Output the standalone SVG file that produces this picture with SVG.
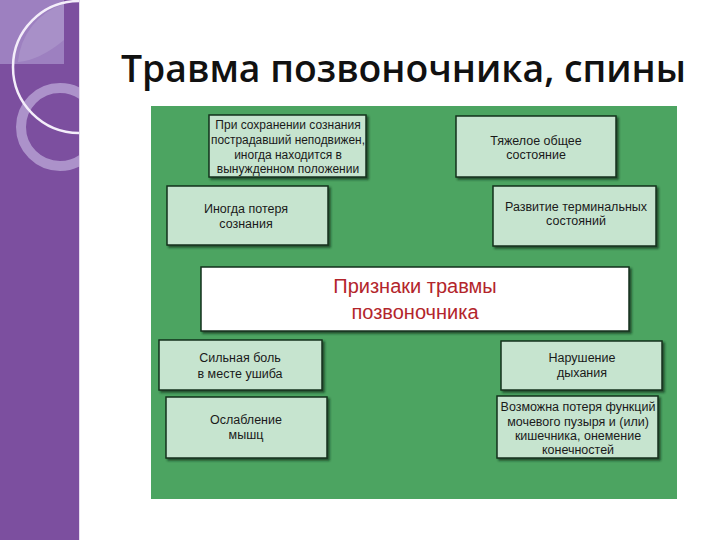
<svg xmlns="http://www.w3.org/2000/svg" width="720" height="540" viewBox="0 0 720 540">
<defs>
<style>
.box{fill:#c6e4cf;stroke:#15301c;stroke-width:1.5;filter:url(#sh)}
.t{font-family:"Liberation Sans",Arial,sans-serif;font-size:12.5px;fill:#1a1a1a;text-anchor:middle}
.s{font-size:12px}
.c{font-family:"Liberation Sans",Arial,sans-serif;font-size:20px;fill:#b3252b;text-anchor:middle}
</style>
<filter id="sh" x="-10%" y="-10%" width="130%" height="140%">
<feDropShadow dx="2" dy="2" stdDeviation="1" flood-color="#10301a" flood-opacity="0.75"/>
</filter>
<clipPath id="bar"><rect x="0" y="0" width="79" height="540"/></clipPath>
</defs>
<rect width="720" height="540" fill="#ffffff"/>
<g id="sidebar" clip-path="url(#bar)">
<rect x="0" y="0" width="79" height="540" fill="#7c4f9f"/>
<rect x="0" y="0" width="64" height="64" fill="#9d80c0"/>
<path d="M64 0 L64 40 Q40 60 18 62 A66 66 0 0 1 64 4 Z" fill="#a890c8"/>
<circle cx="60" cy="127" r="39" fill="none" stroke="#b59dd1" stroke-width="10" opacity="0.85"/>
<circle cx="79" cy="67" r="66" fill="none" stroke="#f4eefa" stroke-width="2.5"/>
</g>
<line x1="79.5" y1="0" x2="79.5" y2="540" stroke="#e6dcef" stroke-width="1"/>
<text x="121" y="82" font-family="'Open Sans','Liberation Sans',sans-serif" font-weight="600" font-size="38" fill="#111" textLength="565" lengthAdjust="spacingAndGlyphs">Травма позвоночника, спины</text>
<rect x="151" y="106" width="526" height="393" fill="#4ca461"/>
<g id="connectors"/>
<g id="n1"><rect class="box" x="209" y="115" width="157" height="62"/>
<text class="t s" x="288" y="129">При сохранении сознания</text>
<text class="t s" x="288" y="144" textLength="154" lengthAdjust="spacingAndGlyphs">пострадавший неподвижен,</text>
<text class="t s" x="288" y="159">иногда находится в</text>
<text class="t s" x="288" y="173">вынужденном положении</text></g>
<g id="n2"><rect class="box" x="167" y="186" width="161" height="59"/>
<text class="t" x="246" y="213">Иногда потеря</text>
<text class="t" x="246" y="228">сознания</text></g>
<g id="n3"><rect class="box" x="456" y="116" width="160" height="61"/>
<text class="t" x="536" y="145">Тяжелое общее</text>
<text class="t" x="536" y="159">состояние</text></g>
<g id="n4"><rect class="box" x="493" y="186" width="163" height="60"/>
<text class="t" x="576" y="211">Развитие терминальных</text>
<text class="t" x="576" y="225">состояний</text></g>
<g id="center"><rect x="201" y="267" width="428" height="64" fill="#ffffff" stroke="#15301c" stroke-width="1.5" filter="url(#sh)"/>
<text class="c" x="415" y="293">Признаки травмы</text>
<text class="c" x="415" y="319">позвоночника</text></g>
<g id="n5"><rect class="box" x="159" y="340" width="163" height="50"/>
<text class="t" x="240" y="362">Сильная боль</text>
<text class="t" x="240" y="378">в месте ушиба</text></g>
<g id="n6"><rect class="box" x="166" y="397" width="161" height="61"/>
<text class="t" x="246" y="424">Ослабление</text>
<text class="t" x="246" y="439">мышц</text></g>
<g id="n7"><rect class="box" x="501" y="341" width="161" height="49"/>
<text class="t" x="582" y="362">Нарушение</text>
<text class="t" x="582" y="377">дыхания</text></g>
<g id="n8"><rect class="box" x="497" y="396" width="161" height="62"/>
<text class="t" x="578" y="411">Возможна потеря функций</text>
<text class="t" x="578" y="426">мочевого пузыря и (или)</text>
<text class="t" x="578" y="440">кишечника, онемение</text>
<text class="t" x="578" y="454">конечностей</text></g>
</svg>
